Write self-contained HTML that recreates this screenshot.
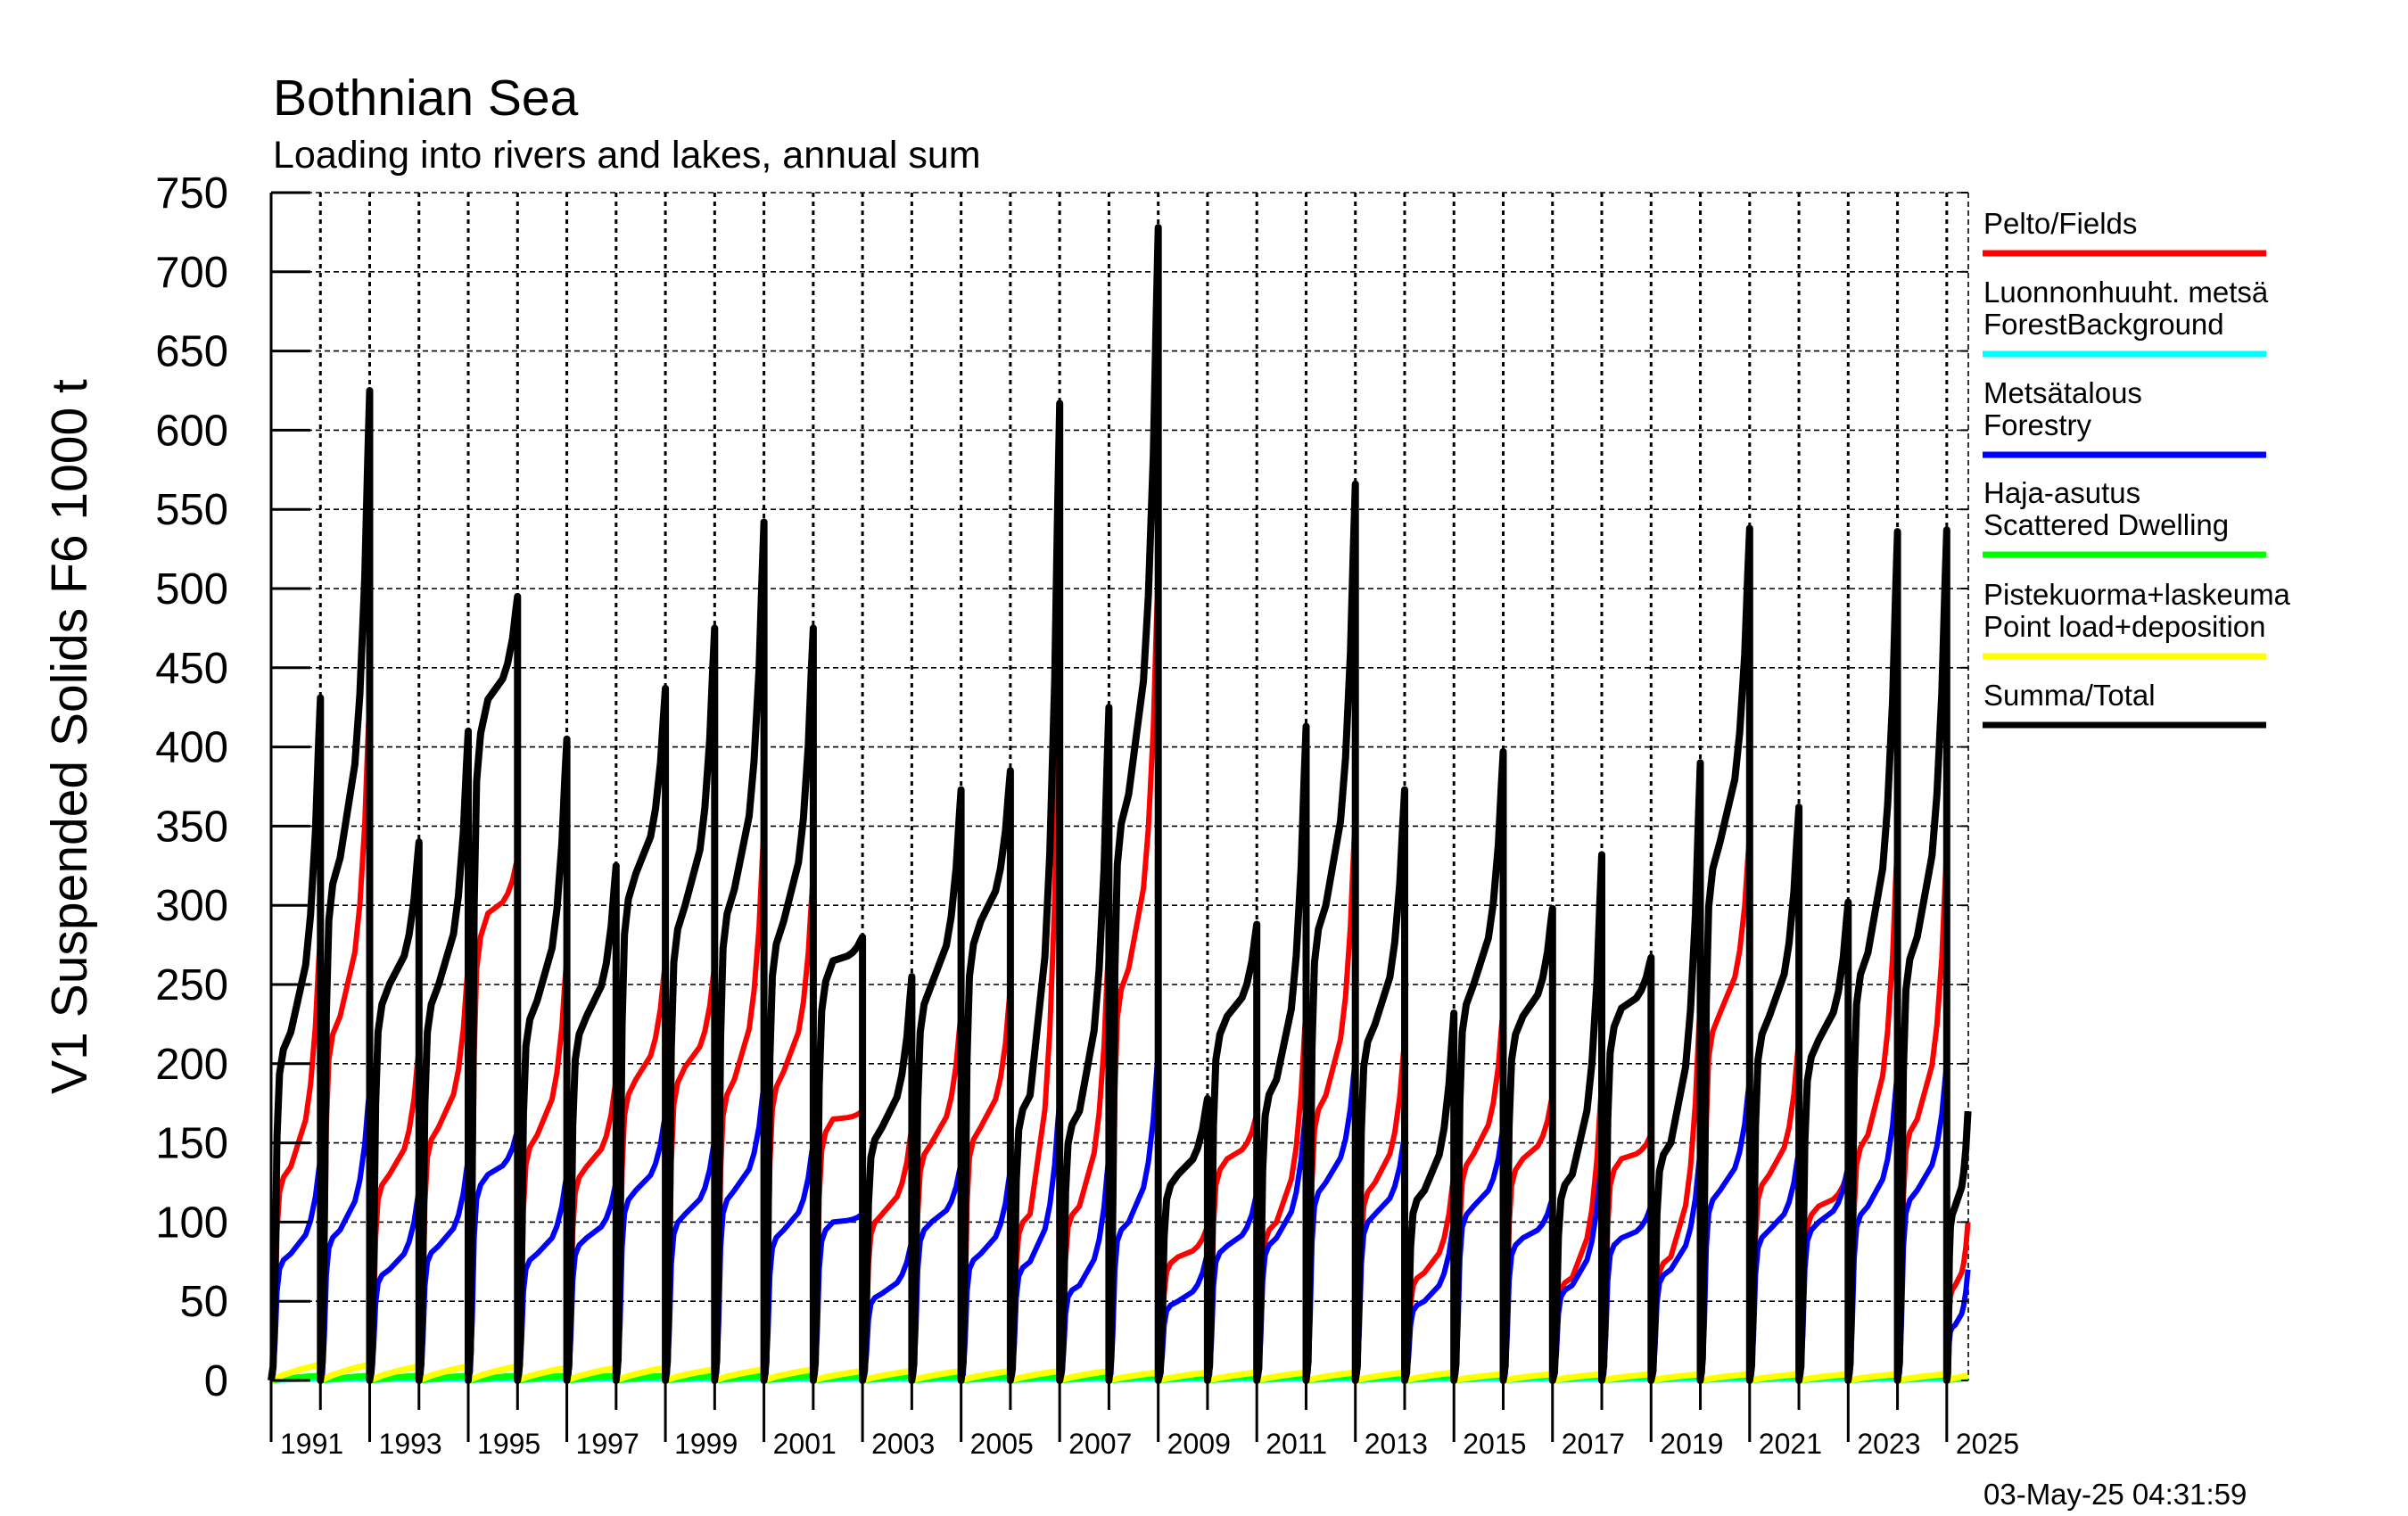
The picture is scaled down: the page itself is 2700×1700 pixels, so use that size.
<!DOCTYPE html>
<html><head><meta charset="utf-8"><title>Bothnian Sea</title>
<style>
html,body{margin:0;padding:0;background:#fff;}
svg{display:block;font-family:"Liberation Sans",sans-serif;}
</style></head>
<body>
<svg id="chart" width="2700" height="1700" viewBox="0 0 2700 1700" xmlns="http://www.w3.org/2000/svg">
<rect x="0" y="0" width="2700" height="1700" fill="#fff"/>
<text x="306" y="129" font-size="57">Bothnian Sea</text>
<text x="306" y="188" font-size="43">Loading into rivers and lakes, annual sum</text>
<text transform="translate(97,826) rotate(-90)" text-anchor="middle" font-size="57">V1 Suspended Solids F6 1000 t</text>
<g id="grid"></g>
<g id="series"></g>
<g id="axes"></g>
<g id="legend"></g>
<text x="2224" y="1687" font-size="33">03-May-25 04:31:59</text>
</svg>
<script>
// ---- data (1000 t), one entry per year 1990..2024 ----
const years = [1990,1991,1992,1993,1994,1995,1996,1997,1998,1999,2000,2001,2002,2003,2004,2005,2006,2007,2008,2009,2010,2011,2012,2013,2014,2015,2016,2017,2018,2019,2020,2021,2022,2023,2024];
const totalEnd = [431,625,340,410,495,405,325,437,475,542,475,280,255,373,385,617,425,728,178,288,413,566,373,232,397,298,332,267,390,538,362,302,536,537,170];
const totalMid = [220,330,250,250,430,240,230,320,300,310,290,265,160,250,290,180,170,370,130,230,190,300,225,120,250,230,130,235,150,340,230,215,270,280,110];
const fieldsEnd = [283,432,210,263,330,268,190,265,262,350,320,170,160,232,248,435,278,513,97,168,235,358,215,130,235,180,188,155,240,345,215,132,342,335,100];
const fieldsMid = [135,230,130,160,295,155,135,190,198,190,195,165,105,150,160,105,110,260,78,140,100,180,125,68,143,140,65,140,78,232,130,110,155,165,60];
const forestryEnd = [140,185,120,140,158,130,125,168,152,187,150,105,88,137,133,177,142,208,80,118,172,203,155,100,160,115,140,110,145,190,145,135,195,200,70];
const forestryMid = [80,95,70,85,130,80,90,120,105,120,95,100,55,100,80,75,60,100,50,85,90,125,105,50,110,90,60,90,70,120,95,100,110,120,35];
const pointEnd = [10,10,9,9,9,8,8,8,7,7,7,6,6,6,6,6,6,5,5,5,5,5,5,5,4,4,4,4,4,4,4,4,4,4,3];
const dwellingEnd = [3,3,3,3,3,3,3,3,3,3,3,3,3,3,3,3,3,3,3,3,3,3,3,3,3,3,3,3,3,3,3,3,3,3,2];
const backgroundEnd = [1,1,1,1,1,1,1,1,1,1,1,1,1,1,1,1,1,1,1,1,1,1,1,1,1,1,1,1,1,1,1,1,1,1,1];
const yTicks = [0,50,100,150,200,250,300,350,400,450,500,550,600,650,700,750];
const xLabels = ["1991","1993","1995","1997","1999","2001","2003","2005","2007","2009","2011","2013","2015","2017","2019","2021","2023","2025"];
const lastYearFraction = 0.43;

// ---- axes functions ----
const X0 = 304, YW = 55.26, XR = 2207, Y0 = 1548, YTOP = 216, VMAX = 750;
function xScale(yr){ return X0 + (yr - 1990) * YW; }
function yScale(v){ return Y0 - v * (Y0 - YTOP) / VMAX; }
const NS = "http://www.w3.org/2000/svg";
function mk(tag, attrs, parent){ const e = document.createElementNS(NS, tag); for (const k in attrs) e.setAttribute(k, attrs[k]); parent.appendChild(e); return e; }

const grid = document.getElementById('grid');
const axes = document.getElementById('axes');
const seriesG = document.getElementById('series');
const legend = document.getElementById('legend');

yTicks.forEach(v => {
  if (v === 0) return;
  const l = mk('line', {x1:X0, x2:XR, y1:yScale(v), y2:yScale(v), stroke:'#000', 'stroke-width':1.6, 'stroke-dasharray':'6,4'}, grid);
  
  
});
for (let yr = 1991; yr <= 2024; yr++) {
  const l = mk('line', {x1:xScale(yr), x2:xScale(yr), y1:YTOP, y2:Y0, stroke:'#000', 'stroke-width':3, 'stroke-dasharray':'5,5'}, grid);
  
  
}
const rEdge = mk('line', {x1:XR, x2:XR, y1:YTOP, y2:Y0, stroke:'#000', 'stroke-width':1.6, 'stroke-dasharray':'6,4'}, grid);



function yearPoints(i, endArr, midArr){
  const e = endArr[i], m = midArr ? midArr[i] : null;
  const span = (i === years.length - 1) ? lastYearFraction : 1;
  let knots;
  if (m === null) {
    knots = [[0,0],[0.25,0.35*e],[0.5,0.6*e],[0.75,0.82*e],[1,e]];
  } else {
    knots = [[0,0],[0.04,0.04*m],[0.08,0.3*m],[0.12,0.7*m],[0.17,0.88*m],[0.25,0.95*m],[0.4,m],[0.7,m+0.2*(e-m)],[0.8,m+0.35*(e-m)],[0.9,m+0.6*(e-m)],[0.96,m+0.85*(e-m)],[1,e]];
  }
  return knots.map(k => [xScale(years[i] + k[0]*span), yScale(k[1])]);
}
function drawSeries(name, color, width, endArr, midArr){
  let pts = [];
  for (let i = 0; i < years.length; i++) pts = pts.concat(yearPoints(i, endArr, midArr));
  const p = mk('polyline', {points: pts.map(p => p[0].toFixed(1)+','+p[1].toFixed(1)).join(' '), fill:'none', stroke:color, 'stroke-width':width, 'stroke-linejoin':'round'}, seriesG);
  
  
}
drawSeries('series-fields', '#ff0000', 6, fieldsEnd, fieldsMid);
drawSeries('series-forest-background', '#00ffff', 6, backgroundEnd, null);
drawSeries('series-forestry', '#0000ff', 6, forestryEnd, forestryMid);
drawSeries('series-scattered-dwelling', '#00ff00', 7, dwellingEnd, null);
drawSeries('series-point-load', '#ffff00', 7, pointEnd, null);
drawSeries('series-total', '#000000', 8, totalEnd, totalMid);

const yAxis = mk('line', {x1:X0, x2:X0, y1:YTOP, y2:Y0, stroke:'#000', 'stroke-width':3}, axes);


yTicks.forEach(v => {
  const t = mk('line', {x1:X0, x2:X0+44, y1:yScale(v), y2:yScale(v), stroke:'#000', 'stroke-width':3}, axes);
  
  
  const rt = mk('line', {x1:XR-8, x2:XR, y1:yScale(v), y2:yScale(v), stroke:'#000', 'stroke-width':2}, axes);
  
  
  const tx = mk('text', {x:256, y:yScale(v)+17, 'text-anchor':'end', 'font-size':49}, axes);
  tx.textContent = String(v);
  
  
});
for (let yr = 1990; yr <= 2024; yr++) {
  const even = (yr % 2 === 0);
  const t = mk('line', {x1:xScale(yr), x2:xScale(yr), y1:Y0, y2: even ? 1617 : 1581, stroke:'#000', 'stroke-width':3}, axes);
  
  
}
xLabels.forEach(lab => {
  const yr = parseInt(lab, 10);
  const tx = mk('text', {x:xScale(yr-1)+10, y:1630, 'font-size':32}, axes);
  tx.textContent = lab;
  
  
});

const legendItems = [
  {lines:['Pelto/Fields'], color:'#ff0000', y:284, name:'legend-fields'},
  {lines:['Luonnonhuuht. metsä','ForestBackground'], color:'#00ffff', y:397, name:'legend-forest-background'},
  {lines:['Metsätalous','Forestry'], color:'#0000ff', y:510, name:'legend-forestry'},
  {lines:['Haja-asutus','Scattered Dwelling'], color:'#00ff00', y:622, name:'legend-scattered-dwelling'},
  {lines:['Pistekuorma+laskeuma','Point load+deposition'], color:'#ffff00', y:736, name:'legend-point-load'},
  {lines:['Summa/Total'], color:'#000000', y:813, name:'legend-total'}
];
legendItems.forEach(it => {
  const g = mk('g', {}, legend);
  
  
  const n = it.lines.length;
  it.lines.forEach((s, k) => {
    const tx = mk('text', {x:2224, y: it.y - 22 - (n-1-k)*36, 'font-size':33}, g);
    tx.textContent = s;
    
    
  });
  const r = mk('rect', {x:2223, y:it.y-3.5, width:318, height:7, fill:it.color}, g);
  
  
});
</script>
</body></html>
